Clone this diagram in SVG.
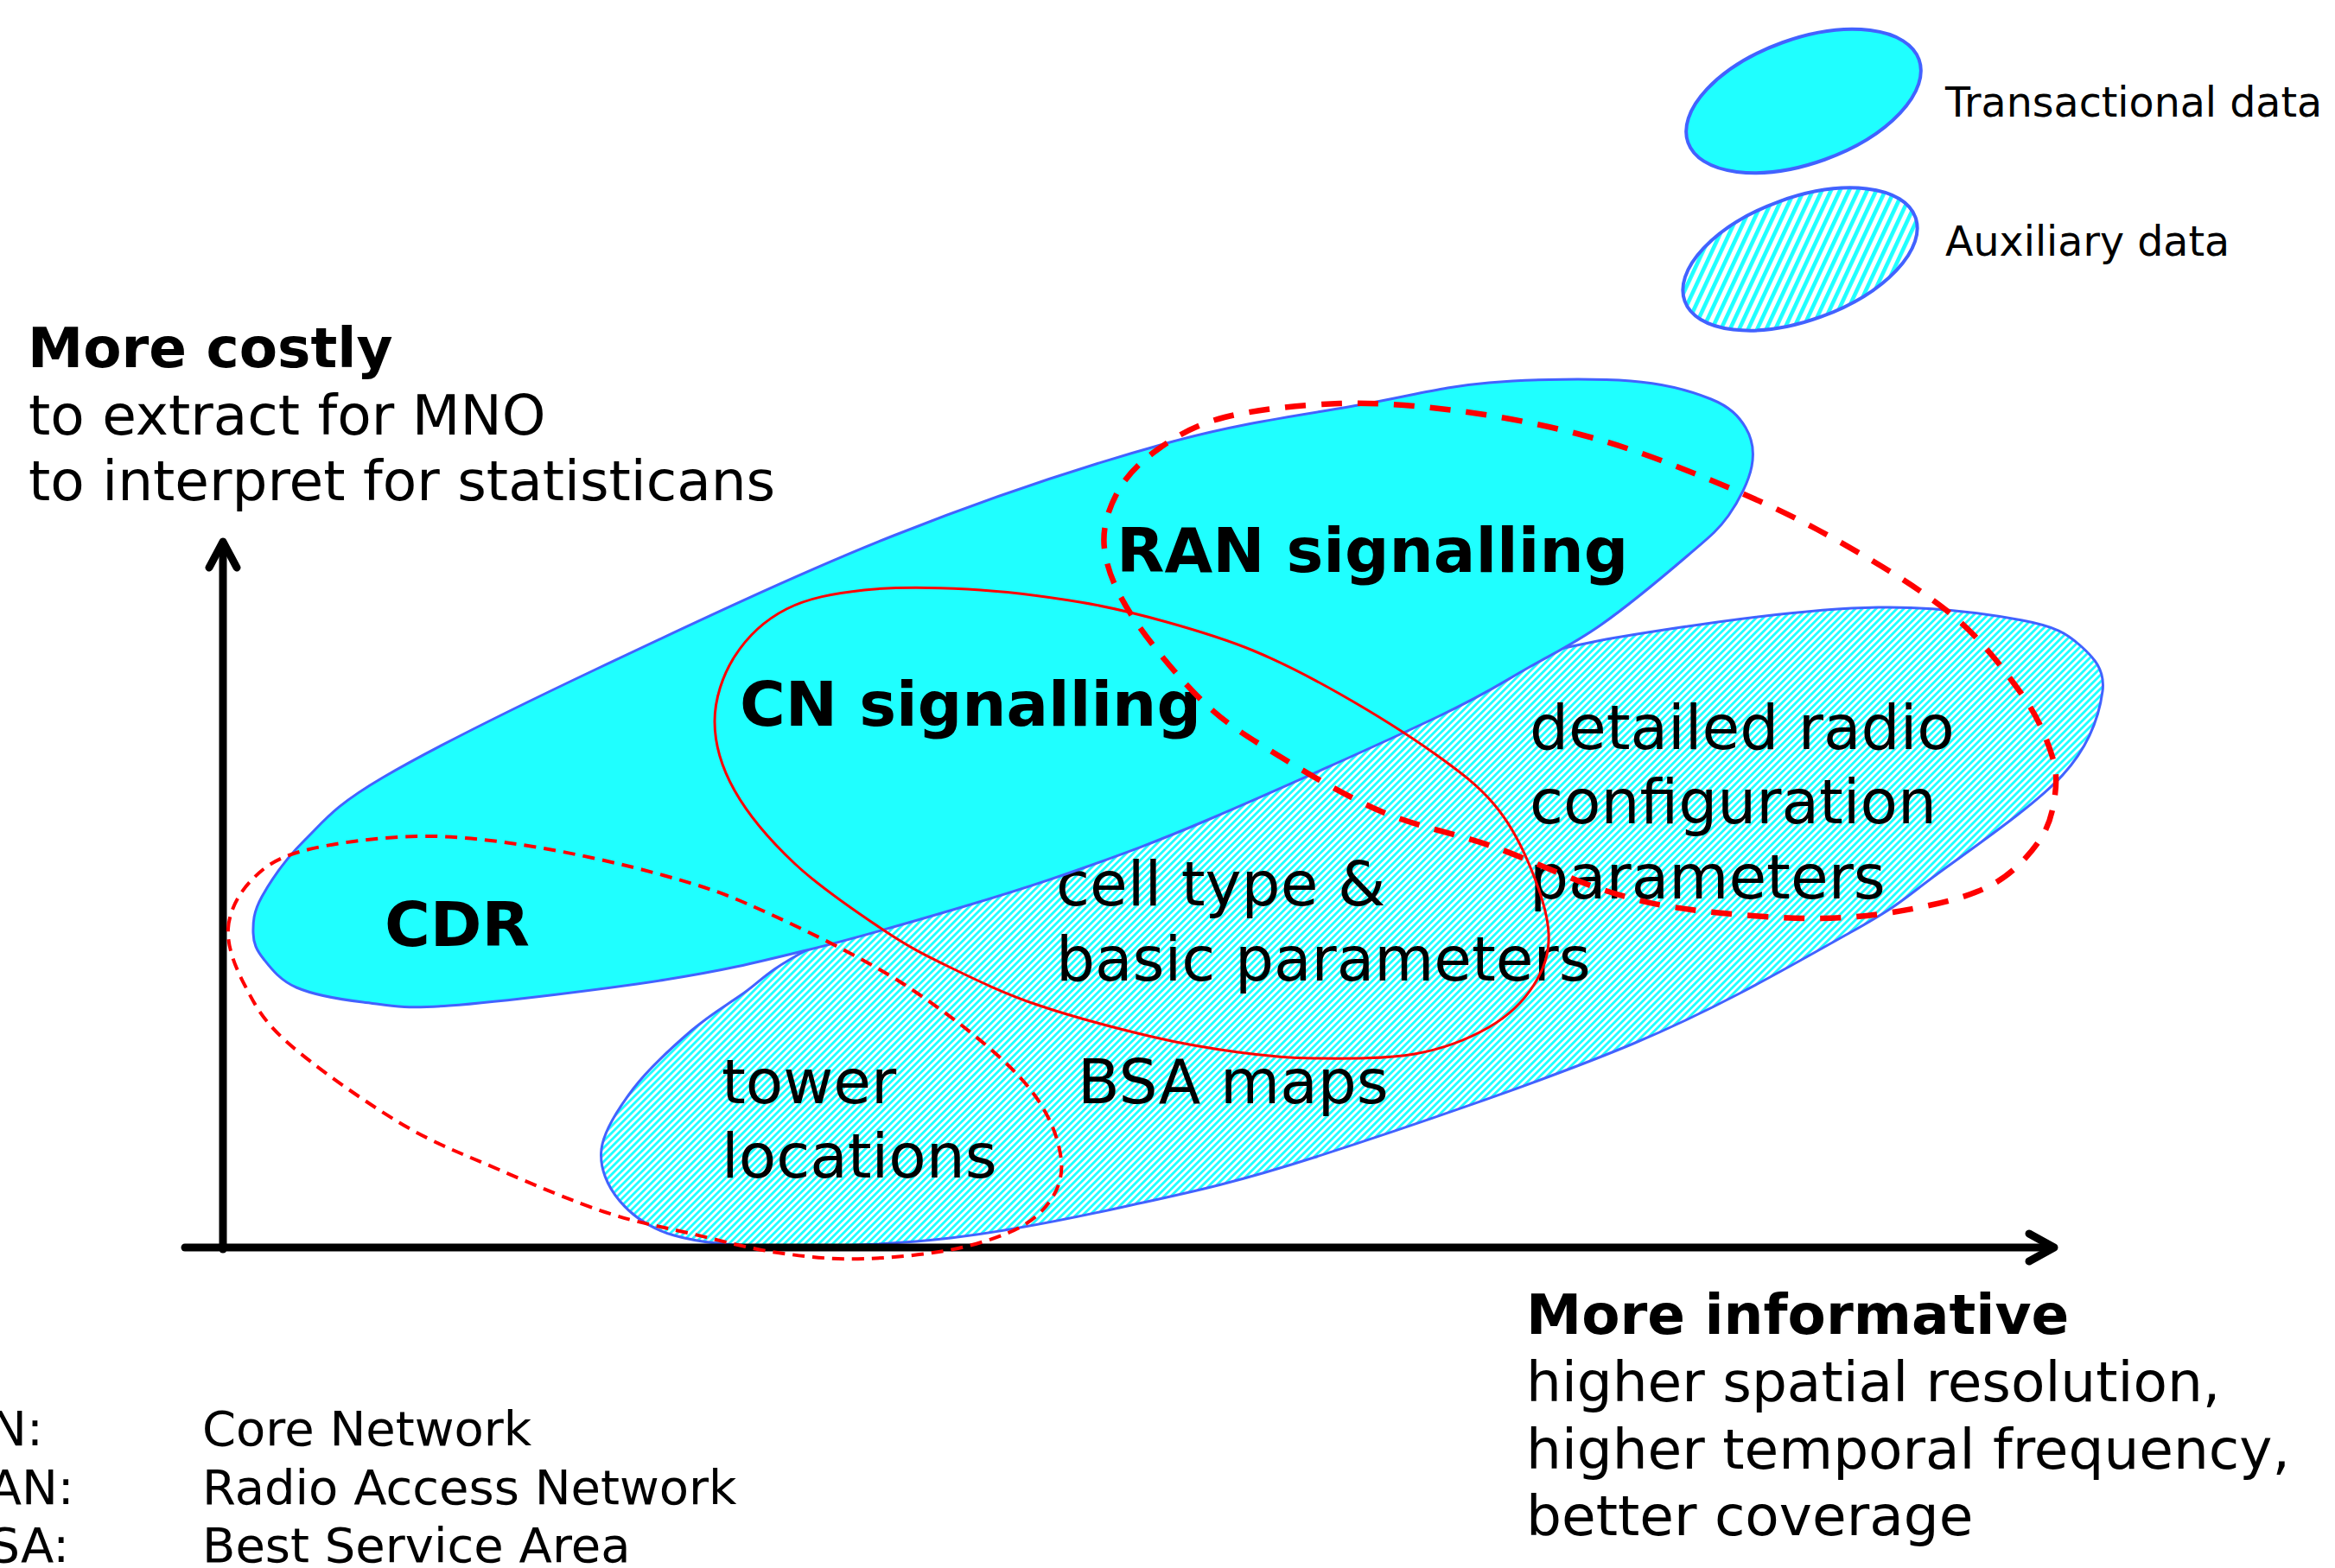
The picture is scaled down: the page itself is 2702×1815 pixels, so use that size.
<svg xmlns="http://www.w3.org/2000/svg" width="2702" height="1815" viewBox="0 0 2702 1815">
<style>
text { font-family: "DejaVu Sans", Verdana, "Liberation Sans", sans-serif; fill: #000; }
.b { font-weight: bold; }
.inner { font-size: 71px; }
.innerb { font-size: 72px; font-weight: bold; }
.axis { font-size: 64.5px; }
.leg { font-size: 47.5px; }
.abbr { font-size: 56px; }
.trans { fill: #1fffff; stroke: #4262ff; stroke-width: 3; }
.aux { fill: url(#hatch); stroke: #4262ff; stroke-width: 3; }
.auxleg { fill: url(#hatchLeg); stroke: #4262ff; stroke-width: 4; }
.transleg { fill: #1fffff; stroke: #4262ff; stroke-width: 4; }
.redsolid { fill: none; stroke: #ff0000; stroke-width: 3; }
.redthick { fill: none; stroke: #ff0000; stroke-width: 6.5; stroke-dasharray: 24 18; }
.redthin { fill: none; stroke: #ff0000; stroke-width: 4; stroke-dasharray: 14 9; }
.ax { fill: none; stroke: #000; stroke-width: 9; stroke-linecap: round; stroke-linejoin: round; }
</style>
<defs>
<pattern id="hatch" patternUnits="userSpaceOnUse" width="5.66" height="20" patternTransform="rotate(45)">
<rect width="5.66" height="20" fill="#ffffff"/>
<rect width="2.9" height="20" fill="#1fffff"/>
</pattern>
<pattern id="hatchLeg" patternUnits="userSpaceOnUse" width="9.5" height="20" patternTransform="rotate(45)">
<rect width="9.5" height="20" fill="#ffffff"/>
<rect width="4.6" height="20" fill="#1fffff"/>
</pattern>
</defs>
<rect width="2702" height="1815" fill="#ffffff"/>

<g id="legend">
<g id="legend-transactional">
<ellipse class="transleg" cx="2087" cy="117" rx="142" ry="72" transform="rotate(-19.8 2087 117)"/>
<text class="leg" x="2251" y="135">Transactional data</text>
</g>
<g id="legend-auxiliary">
<ellipse class="auxleg" cx="2083" cy="300" rx="142" ry="71" transform="rotate(-20 2083 300)"/>
<text class="leg" x="2251" y="296">Auxiliary data</text>
</g>
</g>

<g id="node-auxiliary">
<path class="aux" d="M 696,1330 C 698.7,1308.3 715.7,1282.8 733,1260 S 778.8,1211.3 800,1193 S 837.8,1165.5 860,1150 S 884.7,1125.8 933,1100 S 1063.8,1033.7 1150,995 S 1351.7,905.8 1450,868 S 1656.2,791.8 1740,768 S 1880.8,735.8 1953,725 S 2108.5,704.2 2173,703 S 2301,710.7 2340,718 S 2391.5,733.3 2407,747 S 2436.3,775 2433,800 S 2419.2,861.5 2387,897 S 2281.2,982.5 2240,1013 S 2198.3,1047.5 2140,1080 S 1993.3,1164.7 1890,1208 S 1618.3,1308.5 1520,1340 S 1370,1381.5 1300,1397 S 1166.7,1425.3 1100,1433 S 953.3,1443.5 900,1443 S 810.5,1438.8 780,1430 S 731,1406.7 717,1390 S 693.3,1351.7 696,1330 Z"/>
<g id="label-radio-config">
<text class="inner" x="1770" y="867">detailed radio</text>
<text class="inner" x="1770" y="953">configuration</text>
<text class="inner" x="1770" y="1040">parameters</text>
</g>
<g id="label-cell-type">
<text class="inner" x="1222" y="1048">cell type &amp;</text>
<text class="inner" x="1222" y="1135">basic parameters</text>
</g>
<g id="label-tower">
<text class="inner" x="835" y="1277">tower</text>
<text class="inner" x="835" y="1363">locations</text>
</g>
<g id="label-bsa">
<text class="inner" x="1247" y="1277">BSA maps</text>
</g>
</g>

<g id="node-transactional">
<path class="trans" d="M 293,1080 C 292.7,1068 293,1056 303,1038 S 329.7,995 353,972 S 387,932.8 443,900 S 590.5,821.7 689,775 S 923.8,663.7 1034,620 S 1258.5,538.5 1350,513 S 1520.8,478.7 1583,467 S 1672.3,447.3 1723,443 S 1844.2,437.8 1887,441 S 1957.8,453 1980,462 S 2012.2,482 2020,495 S 2030.3,523 2027,540 S 2012.3,579.8 2000,597 S 1977.5,622 1953,643 S 1883.5,701.5 1853,723 S 1801.7,754.2 1770,772 S 1724.7,800.7 1663,830 S 1469.3,918.5 1400,948 S 1294.8,990 1247,1007 S 1165.3,1034.5 1113,1050 S 990.2,1086 933,1100 S 838.8,1123.3 770,1134 S 578.3,1159.7 520,1164 S 449.5,1163.5 420,1160 S 362.2,1151.3 343,1143 S 313.3,1120.5 305,1110 S 293.3,1092 293,1080 Z"/>
</g>

<g id="connectors">
<g id="axes">
<line class="ax" x1="258" y1="1446" x2="258" y2="632"/>
<polyline class="ax" points="242,657 258,627 274,657"/>
<line class="ax" x1="214" y1="1444" x2="2372" y2="1444"/>
<polyline class="ax" points="2348,1428 2377,1444 2348,1460"/>
</g>
</g>

<g id="node-cdr">
<text class="innerb" x="445" y="1095">CDR</text>
<path class="redthin" d="M 264,1075 C 265.2,1055 275.7,1035 290,1020 S 317.8,993.7 350,985 S 438.5,968.8 483,968 S 569.7,972.5 617,980 S 723.2,1000.8 767,1013 S 833.3,1031.8 880,1053 S 996.5,1107.2 1047,1140 S 1152.8,1216.2 1183,1250 S 1225.2,1316.8 1228,1343 S 1218.5,1390.3 1200,1407 S 1150.3,1434.7 1117,1443 S 1036.2,1455.8 1000,1457 S 933.3,1454.8 900,1450 S 833.3,1435.8 800,1428 S 736.7,1415.2 700,1403 S 619.5,1372.2 580,1355 S 504.2,1324.7 463,1300 S 363,1233.7 333,1207 S 294.5,1162 283,1140 S 262.8,1095 264,1075 Z"/>
</g>

<g id="node-cn">
<text class="innerb" x="856" y="840">CN signalling</text>
<path class="redsolid" d="M 827,835 C 827,809.2 836.2,781.7 850,760 S 885,717.8 910,705 S 965,686.8 1000,683 S 1078.3,679.7 1120,682 S 1211.7,690.7 1250,697 S 1316.7,710.7 1350,720 S 1416.7,739.2 1450,753 S 1514.8,783 1550,803 S 1631.3,851.8 1661,873 S 1710.2,909.3 1728,930 S 1757.3,972 1768,997 S 1790.8,1056.2 1792,1080 S 1786.5,1121.8 1775,1140 S 1746,1175.7 1723,1189 S 1670.8,1214 1637,1220 S 1554,1225.3 1520,1225 S 1464.2,1222.2 1433,1218 S 1371.8,1209.2 1333,1200 S 1238.8,1176.3 1200,1163 S 1129.5,1134.3 1100,1120 S 1053,1097 1023,1077 S 948.8,1027 920,1000 S 865.5,942.5 850,915 S 827,860.8 827,835 Z"/>
</g>

<g id="node-ran">
<text class="innerb" x="1292" y="662">RAN signalling</text>
<path class="redthick" d="M 1278,635 C 1275.2,611.2 1282.7,589.2 1293,570 S 1319.3,534.5 1340,520 S 1382,491.8 1417,483 S 1505.7,468.3 1550,467 S 1637.2,469.2 1683,475 S 1780,490.3 1825,502 S 1906.7,526.5 1953,545 S 2053,586 2103,613 S 2214,675.8 2253,707 S 2317,772.8 2337,800 S 2366.2,850 2373,870 S 2380.2,902.8 2378,920 S 2371.8,955.8 2360,973 S 2329.8,1010.2 2307,1023 S 2256.3,1043.3 2223,1050 S 2151.3,1062.5 2107,1063 S 1999,1058.5 1957,1053 S 1893.2,1042.2 1855,1030 S 1770.5,995 1728,980 S 1641.3,957.5 1600,940 S 1514.5,896.2 1480,875 S 1421.3,840 1393,813 S 1329.2,742.7 1310,713 S 1280.8,658.8 1278,635 Z"/>
</g>

<g id="label-y-axis">
<text class="axis b" x="32" y="425">More costly</text>
<text class="axis" x="33" y="503">to extract for MNO</text>
<text class="axis" x="33" y="579">to interpret for statisticans</text>
</g>

<g id="label-x-axis">
<text class="axis b" x="1766" y="1544">More informative</text>
<text class="axis" x="1766" y="1622">higher spatial resolution,</text>
<text class="axis" x="1766" y="1700">higher temporal frequency,</text>
<text class="axis" x="1766" y="1777">better coverage</text>
</g>

<g id="abbreviations">
<text class="abbr" x="-50" y="1673">CN:</text>
<text class="abbr" x="234" y="1673">Core Network</text>
<text class="abbr" x="-50" y="1741">RAN:</text>
<text class="abbr" x="234" y="1741">Radio Access Network</text>
<text class="abbr" x="-50" y="1808">BSA:</text>
<text class="abbr" x="234" y="1808">Best Service Area</text>
</g>
</svg>
